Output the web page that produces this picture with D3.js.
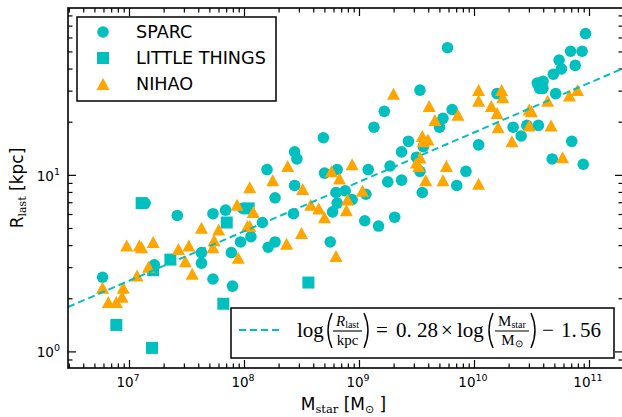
<!DOCTYPE html>
<html>
<head>
<meta charset="utf-8">
<script src="https://cdn.jsdelivr.net/npm/d3@7"></script>
<style>
  body { margin: 0; background: #fff; }
  svg { display: block; }
</style>
</head>
<body>
<svg id="chart" width="622" height="417"></svg>
<script>
// points, stored as [log10 Mstar/Msun, log10 Rlast/kpc]
const sparc = [
  [6.77,0.42],[7.14,0.84],[7.22,0.49],[7.42,0.77],[7.63,0.56],[7.63,0.50],[7.73,0.78],[7.73,0.41],
  [7.84,0.80],[7.89,0.56],[7.90,0.37],[7.97,0.62],[8.06,0.65],[8.16,0.73],[7.99,0.81],[8.20,1.03],
  [8.21,0.59],[8.27,0.62],[8.27,0.87],[8.43,0.78],[8.44,1.13],[8.46,1.09],[8.44,0.94],[8.69,1.21],
  [8.70,1.01],[8.81,1.03],[8.80,0.90],[8.88,0.91],[8.81,0.84],[8.77,0.79],[8.75,0.62],[8.94,0.86],
  [9.06,0.89],[9.08,1.03],[9.13,1.27],[9.22,1.36],[9.25,0.96],[9.27,1.05],[9.05,0.74],[9.17,0.71],
  [9.31,0.76],[9.37,0.97],[9.37,1.13],[9.43,1.19],[9.50,1.10],[9.53,1.02],[9.53,1.48],[9.55,0.90],
  [9.56,1.16],[9.70,1.27],[9.73,1.32],[9.81,1.37],[9.77,1.72],[9.85,0.94],[9.93,1.02],[10.04,1.17],
  [10.20,1.46],[10.34,1.27],[10.41,1.22],[10.46,1.28],[10.56,1.28],[10.55,1.52],[10.60,1.53],[10.57,1.49],
  [10.60,1.49],[10.69,1.57],[10.71,1.46],[10.74,1.65],[10.76,1.60],[10.84,1.70],[10.88,1.62],[10.94,1.70],
  [10.97,1.80],[10.68,1.09],[10.85,1.19],[10.95,1.06]
];
const littleThings = [
  [7.11,0.84],[7.85,0.73],[7.36,0.52],[7.21,0.46],[7.82,0.27],[6.89,0.15],[7.20,0.02],[8.56,0.39],[8.04,0.81]
];
const nihao = [
  [6.77,0.36],[6.95,0.36],[6.94,0.31],[6.82,0.28],[6.89,0.28],[6.98,0.60],[7.09,0.60],[7.11,0.59],
  [7.21,0.62],[7.17,0.48],[7.07,0.43],[7.43,0.58],[7.52,0.60],[7.49,0.51],[7.55,0.44],[7.63,0.70],
  [7.78,0.69],[7.74,0.63],[7.73,0.59],[7.94,0.83],[7.95,0.53],[8.03,0.71],[8.05,0.71],[8.05,0.93],
  [8.08,0.79],[8.25,0.97],[8.38,1.05],[8.37,0.61],[8.50,0.67],[8.51,0.92],[8.58,0.83],[8.65,0.81],
  [8.70,0.76],[8.76,1.02],[8.83,0.98],[8.80,0.54],[8.89,0.80],[8.90,0.86],[8.94,1.06],[9.03,0.91],
  [9.30,1.46],[9.61,1.39],[9.66,1.31],[9.86,1.34],[10.04,1.48],[10.04,1.42],[10.24,1.48],[10.25,1.44],
  [10.15,1.39],[10.20,1.35],[10.21,1.27],[10.48,1.37],[10.50,1.36],[10.48,1.28],[10.33,1.19],[10.64,1.42],
  [10.67,1.28],[10.83,1.45],[10.90,1.48],[10.77,1.10],[9.55,1.22],[9.60,1.20],[9.56,1.19],[9.53,1.10],
  [9.50,1.07],[9.52,1.05],[9.76,1.05],[9.58,0.97],[9.73,0.97],[10.04,0.95]
];

// fit: log(R/kpc) = slope * log(M/Msun) + intercept
const fitSlope = 0.28;
const fitIntercept = -1.56;

const xMajorExp = [7, 8, 9, 10, 11];
const yMajorExp = [0, 1];
const legendNames = ['SPARC', 'LITTLE THINGS', 'NIHAO'];

const cyan = '#00bfbf';
const orange = '#ffa500';

const margin = { top: 8, right: -1, bottom: 49, left: 68 };
const width = 622 - margin.left - margin.right;
const height = 417 - margin.top - margin.bottom;

const svg = d3.select('#chart');

const x = d3.scaleLog().domain([10 ** 6.4696, 10 ** 11.2957]).range([0, width]);
const y = d3.scaleLog().domain([10 ** -0.094, 10 ** 1.945]).range([height, 0]);

const g = svg.append('g').attr('transform', `translate(${margin.left},${margin.top})`);

// minor ticks 2..9 x 10^k inside the domain
function minorTicks(scale, lo, hi) {
  const [d0, d1] = scale.domain();
  const out = [];
  for (let e = lo; e <= hi; e++) {
    for (let m = 2; m <= 9; m++) {
      const v = m * 10 ** e;
      if (v >= d0 && v <= d1) out.push(v);
    }
  }
  return out;
}

const xMajor = xMajorExp.map(e => 10 ** e);
const yMajor = yMajorExp.map(e => 10 ** e);
const xMinor = minorTicks(x, 6, 11);
const yMinor = minorTicks(y, -1, 1);

function drawTicks(axisFn, scale, values, size, transform) {
  g.append('g')
    .attr('class', 'tick-layer')
    .attr('transform', transform)
    .call(axisFn(scale).tickValues(values).tickSize(size).tickFormat(''))
    .call(a => a.select('.domain').remove())
    .call(a => a.selectAll('line').attr('stroke', '#000').attr('stroke-width', 1.2));
}

// inward ticks on all four sides
drawTicks(d3.axisBottom, x, xMajor, -8, `translate(0,${height})`);
drawTicks(d3.axisBottom, x, xMinor, -4.5, `translate(0,${height})`);
drawTicks(d3.axisTop, x, xMajor, -8, 'translate(0,0)');
drawTicks(d3.axisTop, x, xMinor, -4.5, 'translate(0,0)');
drawTicks(d3.axisLeft, y, yMajor, -8, 'translate(0,0)');
drawTicks(d3.axisLeft, y, yMinor, -4.5, 'translate(0,0)');
drawTicks(d3.axisRight, y, yMajor, -8, `translate(${width},0)`);
drawTicks(d3.axisRight, y, yMinor, -4.5, `translate(${width},0)`);

// tick labels 10^n
const xLabels = g.append('g').attr('font-family', 'DejaVu Sans').attr('fill', '#000');
xMajorExp.forEach(e => {
  const t = xLabels.append('text')
    .attr('x', x(10 ** e) - 1)
    .attr('y', height + 19)
    .attr('text-anchor', 'middle')
    .attr('font-size', 13.5);
  t.append('tspan').text('10');
  t.append('tspan').attr('dy', -6).attr('font-size', 9.5).text(e);
});

const yLabels = g.append('g').attr('font-family', 'DejaVu Sans').attr('fill', '#000');
yMajorExp.forEach(e => {
  const t = yLabels.append('text')
    .attr('x', -8)
    .attr('y', y(10 ** e) + 6)
    .attr('text-anchor', 'end')
    .attr('font-size', 13.5);
  t.append('tspan').text('10');
  t.append('tspan').attr('dy', -6).attr('font-size', 9.5).text(e);
});

// clip marks to the axes box
svg.append('defs').append('clipPath').attr('id', 'plot-clip')
  .append('rect').attr('width', width).attr('height', height);
const plot = g.append('g').attr('clip-path', 'url(#plot-clip)');

const px = d => x(10 ** d[0]);
const py = d => y(10 ** d[1]);

plot.append('g').selectAll('circle')
  .data(sparc)
  .join('circle')
  .attr('cx', px)
  .attr('cy', py)
  .attr('r', 5.8)
  .attr('fill', cyan);

plot.append('g').selectAll('rect')
  .data(littleThings)
  .join('rect')
  .attr('x', d => px(d) - 6)
  .attr('y', d => py(d) - 6)
  .attr('width', 12)
  .attr('height', 12)
  .attr('fill', cyan);

const triangle = 'M0,-6L6.5,6L-6.5,6Z';
plot.append('g').selectAll('path')
  .data(nihao)
  .join('path')
  .attr('transform', d => `translate(${px(d)},${py(d)})`)
  .attr('d', triangle)
  .attr('fill', orange);

// fit line across the whole x range
const [xd0, xd1] = x.domain();
const fitLine = [Math.log10(xd0), Math.log10(xd1)].map(lm => [lm, fitSlope * lm + fitIntercept]);
plot.append('path')
  .datum(fitLine)
  .attr('fill', 'none')
  .attr('stroke', cyan)
  .attr('stroke-width', 2)
  .attr('stroke-dasharray', '7,4')
  .attr('d', d3.line().x(px).y(py));

// frame
g.append('rect')
  .attr('width', width)
  .attr('height', height)
  .attr('fill', 'none')
  .attr('stroke', '#000')
  .attr('stroke-width', 1.6);

// axis titles
const xTitle = svg.append('text')
  .attr('x', margin.left + width / 2 - 2)
  .attr('y', 410)
  .attr('text-anchor', 'middle')
  .attr('font-family', 'DejaVu Sans')
  .attr('font-size', 17);
xTitle.append('tspan').text('M');
xTitle.append('tspan').attr('dy', 3).attr('font-family', 'DejaVu Serif').attr('font-size', 11.5).text('star');
xTitle.append('tspan').attr('dy', -3).text(' [M');
xTitle.append('tspan').attr('dy', 3).attr('font-size', 11).text('\u2299');
xTitle.append('tspan').attr('dy', -3).text(' ]');

const yTitle = svg.append('text')
  .attr('transform', `translate(23,${margin.top + height / 2}) rotate(-90)`)
  .attr('text-anchor', 'middle')
  .attr('font-family', 'DejaVu Sans')
  .attr('font-size', 17);
yTitle.append('tspan').text('R');
yTitle.append('tspan').attr('dy', 3).attr('font-family', 'DejaVu Serif').attr('font-size', 11).text('last');
yTitle.append('tspan').attr('dy', -3).text(' [kpc]');

// marker legend
const legend = svg.append('g').attr('font-family', 'DejaVu Sans').attr('font-size', 17.6);
legend.append('rect')
  .attr('x', 77).attr('y', 17).attr('width', 199).attr('height', 84)
  .attr('fill', '#fff').attr('stroke', '#000').attr('stroke-width', 1.5);
legendNames.forEach((name, i) => {
  const cy = 32 + i * 26;
  if (i === 0) legend.append('circle').attr('cx', 103).attr('cy', cy).attr('r', 5.8).attr('fill', cyan);
  if (i === 1) legend.append('rect').attr('x', 97).attr('y', cy - 6).attr('width', 12).attr('height', 12).attr('fill', cyan);
  if (i === 2) legend.append('path').attr('transform', `translate(103,${cy})`).attr('d', triangle).attr('fill', orange);
  legend.append('text').attr('x', 136).attr('y', cy + 6.3).text(name);
});

// fit legend with the equation
const eq = svg.append('g').attr('font-family', 'Liberation Serif').attr('fill', '#000');
eq.append('rect')
  .attr('x', 231).attr('y', 308).attr('width', 383).attr('height', 50)
  .attr('fill', '#fff').attr('stroke', '#000').attr('stroke-width', 1.5);
eq.append('line')
  .attr('x1', 239).attr('x2', 279).attr('y1', 330).attr('y2', 330)
  .attr('stroke', cyan).attr('stroke-width', 2).attr('stroke-dasharray', '7,4');

function paren(x0, open) {
  const d = open
    ? `M${x0 + 6},313 Q${x0 - 2},330.5 ${x0 + 6},348`
    : `M${x0},313 Q${x0 + 8},330.5 ${x0},348`;
  eq.append('path').attr('d', d).attr('fill', 'none').attr('stroke', '#000').attr('stroke-width', 1.4);
}

function fraction(cx, half, num, numSub, den, denSub, numItalic) {
  eq.append('line').attr('x1', cx - half).attr('x2', cx + half).attr('y1', 331).attr('y2', 331)
    .attr('stroke', '#000').attr('stroke-width', 1.1);
  const n = eq.append('text').attr('x', cx).attr('y', 326).attr('text-anchor', 'middle').attr('font-size', 15);
  n.append('tspan').attr('font-style', numItalic ? 'italic' : 'normal').text(num);
  if (numSub) n.append('tspan').attr('dy', 1.5).attr('font-size', 10).text(numSub);
  const dn = eq.append('text').attr('x', cx).attr('y', 345).attr('text-anchor', 'middle').attr('font-size', 15);
  dn.append('tspan').text(den);
  if (denSub) dn.append('tspan').attr('dy', 1.5).attr('font-size', 10).text(denSub);
}

eq.append('text').attr('x', 297).attr('y', 337).attr('font-size', 21).text('log');
paren(326, true);
fraction(347.5, 14.5, 'R', 'last', 'kpc', null, true);
paren(364, false);
const rhs = eq.append('text').attr('y', 337).attr('font-size', 21);
rhs.append('tspan').attr('x', 376).text('=');
rhs.append('tspan').attr('x', 396).text('0.');
rhs.append('tspan').attr('x', 417).text('28');
rhs.append('tspan').attr('x', 441).text('\u00d7');
rhs.append('tspan').attr('x', 457).text('log');
paren(487, true);
fraction(512, 17, 'M', 'star', 'M', '\u2299', false);
paren(531, false);
const tail = eq.append('text').attr('y', 337).attr('font-size', 21);
tail.append('tspan').attr('x', 542).text('\u2212');
tail.append('tspan').attr('x', 561).text('1.');
tail.append('tspan').attr('x', 580).text('56');
</script>
</body>
</html>
